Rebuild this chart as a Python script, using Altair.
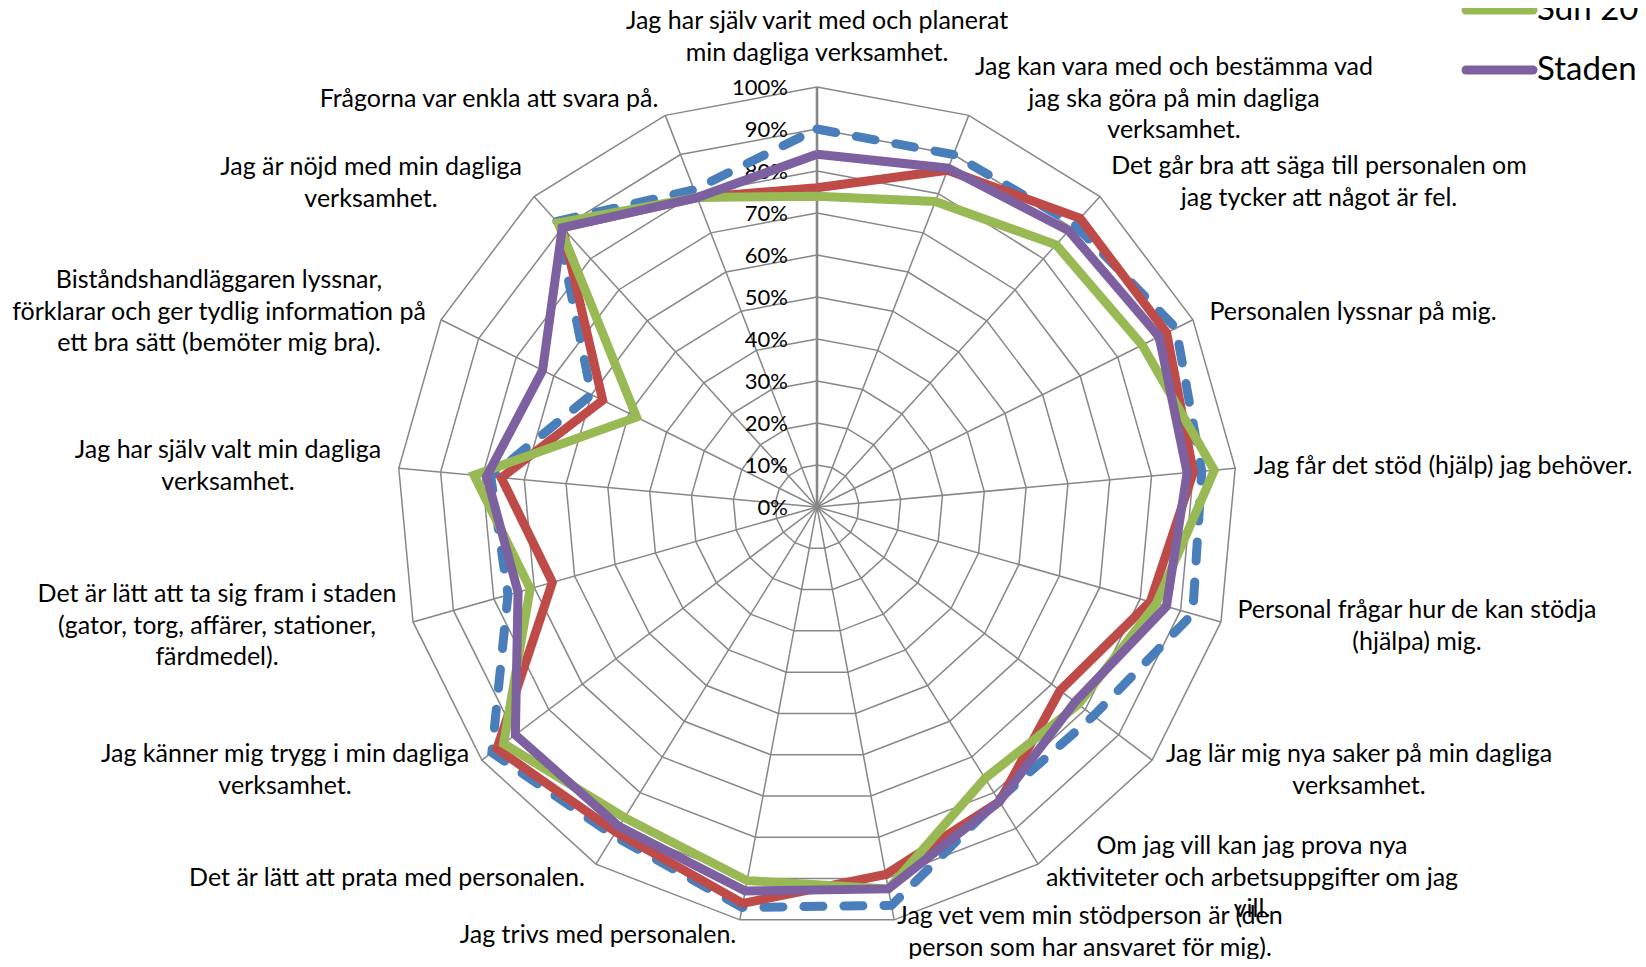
import altair as alt
import pandas as pd

# ---------------- data ----------------
categories = [
    "Jag har själv varit med och planerat\nmin dagliga verksamhet.",
    "Jag kan vara med och bestämma vad\njag ska göra på min dagliga\nverksamhet.",
    "Det går bra att säga till personalen om\njag tycker att något är fel.",
    "Personalen lyssnar på mig.",
    "Jag får det stöd (hjälp) jag behöver.",
    "Personal frågar hur de kan stödja\n(hjälpa) mig.",
    "Jag lär mig nya saker på min dagliga\nverksamhet.",
    "Om jag vill kan jag prova nya\naktiviteter och arbetsuppgifter om jag\nvill.",
    "Jag vet vem min stödperson är (den\nperson som har ansvaret för mig).",
    "Jag trivs med personalen.",
    "Det är lätt att prata med personalen.",
    "Jag känner mig trygg i min dagliga\nverksamhet.",
    "Det är lätt att ta sig fram i staden\n(gator, torg, affärer, stationer,\nfärdmedel).",
    "Jag har själv valt min dagliga\nverksamhet.",
    "Biståndshandläggaren lyssnar,\nförklarar och ger tydlig information på\nett bra sätt (bemöter mig bra).",
    "Jag är nöjd med min dagliga\nverksamhet.",
    "Frågorna var enkla att svara på.",
]

series_names = ["Sdn 2010", "Sdn 2011", "Sdn 2012", "Staden"]
series_colors = ["#4A7EBB", "#BE4B48", "#98B954", "#7D60A0"]

values_blue = [0.90, 0.90, 0.91, 0.955, 0.92, 0.93, 0.825, 0.82, 0.965, 0.97, 0.92, 0.97, 0.765, 0.78, 0.60, 0.92, 0.81]
values_red = [0.76, 0.86, 0.93, 0.93, 0.90, 0.825, 0.725, 0.825, 0.89, 0.96, 0.91, 0.955, 0.655, 0.755, 0.57, 0.90, 0.79]
values_green = [0.74, 0.78, 0.845, 0.865, 0.95, 0.84, 0.78, 0.76, 0.925, 0.905, 0.87, 0.935, 0.71, 0.82, 0.48, 0.915, 0.79]
values_purple = [0.84, 0.865, 0.89, 0.91, 0.885, 0.865, 0.77, 0.825, 0.925, 0.93, 0.895, 0.90, 0.74, 0.79, 0.73, 0.90, 0.79]
series_values = [values_blue, values_red, values_green, values_purple]

ticks = [0.0, 0.1, 0.2, 0.3, 0.4, 0.5, 0.6, 0.7, 0.8, 0.9, 1.0]
tick_labels = ["0%", "10%", "20%", "30%", "40%", "50%", "60%", "70%", "80%", "90%", "100%"]

# ---------------- layout (pixels) ----------------
W, H = 1630, 951          # plot area
CX, CY = 809, 499         # centre of radar inside plot area
R = 420                   # pixels for 100 %
N = len(categories)
# centre x / first-line y of each label block, relative to the radar centre
label_offsets = [
    (0, -486), (357, -440), (502, -341), (536, -195), (626, -41), (600, 103),
    (542, 247), (435, 339), (273, 409), (-219, 428), (-430, 371), (-532, 247),
    (-600, 87), (-589, -57), (-598, -227), (-446, -340), (-328, -408),
]

FONT = "Lato"
xscale = alt.Scale(domain=[-CX / R, (W - CX) / R], nice=False, zero=False)
yscale = alt.Scale(domain=[(CY - H) / R, CY / R], nice=False, zero=False)
cscale = alt.Scale(domain=series_names, range=series_colors)


def with_polar(ch):
    return ch.transform_calculate(ang=f"datum.k * 2 * PI / {N}").transform_calculate(
        px="datum.r * sin(datum.ang)", py="datum.r * cos(datum.ang)"
    )


X = alt.X("px:Q", scale=xscale, axis=None)
Y = alt.Y("py:Q", scale=yscale, axis=None)
GRID = "#878787"

# grid rings
rings = pd.DataFrame(
    [{"r": t, "k": k, "ring": i} for i, t in enumerate(ticks[1:]) for k in range(N + 1)]
)
ring_layer = with_polar(
    alt.Chart(rings).mark_line(color=GRID, strokeWidth=1.5)
).encode(x=X, y=Y, detail="ring:N", order="k:Q")

# spokes
spokes = pd.DataFrame([{"r": r, "k": k} for k in range(1, N) for r in (0.0, 1.0)])
spoke_layer = with_polar(
    alt.Chart(spokes).mark_line(color=GRID, strokeWidth=1.5)
).encode(x=X, y=Y, detail="k:N", order="r:Q")

axis_spoke = pd.DataFrame([{"r": r, "k": 0} for r in (0.0, 1.0)])
axis_layer = with_polar(
    alt.Chart(axis_spoke).mark_line(color=GRID, strokeWidth=2.6)
).encode(x=X, y=Y, order="r:Q")

# tick labels
tick_df = pd.DataFrame({"r": ticks, "k": 0, "label": tick_labels})
tick_layer = with_polar(
    alt.Chart(tick_df).mark_text(
        align="right", baseline="middle", dx=-29, dy=1, font=FONT, fontSize=22, color="#000000"
    )
).encode(x=X, y=Y, text="label:N")

# category labels
cat_df = pd.DataFrame(
    {
        "label": categories,
        "ox": [o[0] for o in label_offsets],
        "oy": [o[1] for o in label_offsets],
    }
)
cat_layer = (
    alt.Chart(cat_df)
    .transform_calculate(px=f"datum.ox / {R}", py=f"-datum.oy / {R}")
    .mark_text(
        align="center", baseline="middle", font=FONT, fontSize=25, lineBreak="\n",
        lineHeight=31.5, color="#000000",
    )
    .encode(x=X, y=Y, text="label:N")
)

# series lines (drawn in series order)
series_layers = []
for name, vals in zip(series_names, series_values):
    rows = [{"series": name, "k": k, "r": v} for k, v in enumerate(vals)]
    rows.append({"series": name, "k": N, "r": vals[0]})
    df = pd.DataFrame(rows)
    if name == series_names[0]:
        mk = alt.Chart(df).mark_line(strokeWidth=9, strokeDash=[19, 21], strokeCap="round")
    else:
        mk = alt.Chart(df).mark_line(strokeWidth=9)
    series_layers.append(
        with_polar(mk).encode(
            x=X, y=Y, order="k:Q",
            color=alt.Color("series:N", scale=cscale, legend=None),
        )
    )

# legend (top right, partly outside the picture as in the original)
legend_layers = []
for i, name in enumerate(series_names):
    ly = 2 + 60 * (i - 2)
    one = pd.DataFrame({"series": [name]})
    legend_layers.append(
        alt.Chart(one).mark_rule(strokeWidth=9, strokeCap="round").encode(
            x=alt.value(1458), x2=alt.value(1525), y=alt.value(ly),
            color=alt.Color("series:N", scale=cscale, legend=None),
        )
    )
    legend_layers.append(
        alt.Chart(one).mark_text(
            align="left", baseline="middle", font=FONT, fontSize=33, color="#000000"
        ).encode(x=alt.value(1529), y=alt.value(ly), text="series:N")
    )

chart = (
    alt.layer(
        ring_layer, spoke_layer, axis_layer, tick_layer, cat_layer,
        *series_layers, *legend_layers,
    )
    .properties(width=W, height=H, autosize=alt.AutoSizeParams(type="none"), padding=0)
    .configure(background="#ffffff", view=alt.ViewConfig(stroke=None))
)

chart.save("out.html", embed_options={"renderer": "svg", "actions": False})
